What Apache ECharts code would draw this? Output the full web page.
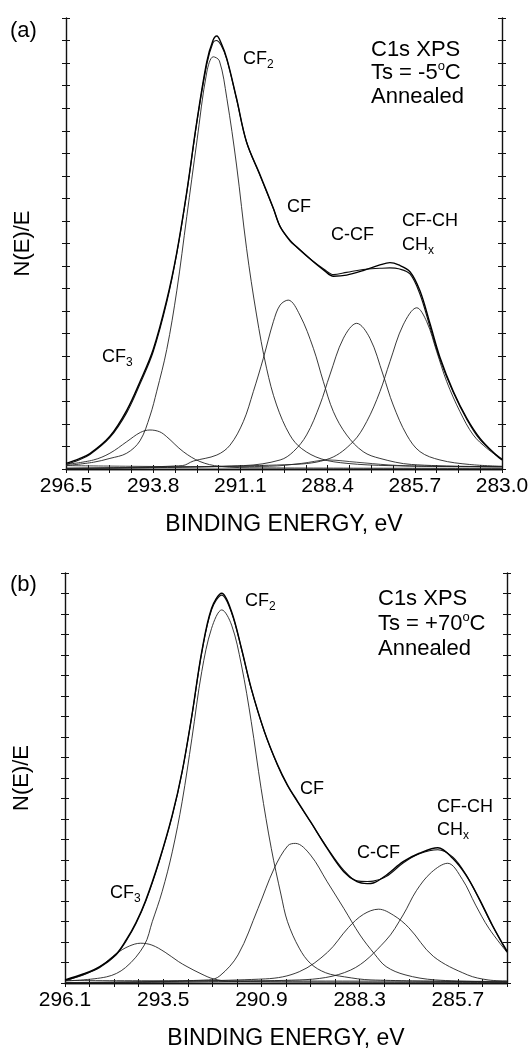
<!DOCTYPE html>
<html><head><meta charset="utf-8">
<script src="https://cdn.jsdelivr.net/npm/echarts/dist/echarts.min.js"></script>
<style>html,body{margin:0;padding:0;background:#fff}#c{width:528px;height:1054px}</style>
</head><body><div id="c"></div>
<script>
// ---------- Panel (a): Ts = -5 C ----------
const A_X_LABELS = [296.5, 293.8, 291.1, 288.4, 285.7, 283.0];
const A_MEAS = [[296.5,0.25],[296.1,0.45],[295.76,0.68],[295.14,1.45],[294.62,2.6],[294.2,3.9],[293.8,5.3],[293.38,7.5],[293.07,9.6],[292.76,12.3],[292.45,15.4],[292.14,18.06],[291.95,19.0],[291.83,19.2],[291.7,18.9],[291.52,18.2],[291.22,16.44],[290.91,14.5],[290.49,13.04],[290.08,11.56],[289.87,10.75],[289.57,10.15],[289.36,9.85],[288.84,9.19],[288.5,8.8],[288.22,8.55],[287.81,8.6],[287.3,8.8],[286.78,9.05],[286.47,9.15],[286.2,9.05],[285.85,8.75],[285.54,7.9],[285.23,6.45],[284.92,4.95],[284.51,3.45],[284.09,2.25],[283.68,1.36],[283.17,0.6],[283.0,0.4]];
const A_FIT = [[296.5,0.2],[296.1,0.4],[295.76,0.64],[295.14,1.4],[294.62,2.5],[294.2,3.8],[293.8,5.2],[293.38,7.4],[293.07,9.55],[292.76,12.25],[292.45,15.35],[292.14,17.95],[291.95,18.9],[291.85,19.0],[291.7,18.8],[291.52,18.15],[291.22,16.4],[290.91,14.5],[290.49,13.0],[290.08,11.55],[289.87,10.75],[289.57,10.12],[289.36,9.85],[288.84,9.2],[288.5,8.85],[288.22,8.62],[287.81,8.72],[287.3,8.85],[286.78,8.9],[286.47,8.92],[286.2,8.88],[285.85,8.65],[285.54,7.75],[285.23,6.3],[284.92,4.85],[284.51,3.4],[284.09,2.2],[283.68,1.3],[283.17,0.62],[283.0,0.45]];
const A_CF3 = [[296.5,0.2],[295.65,0.4],[295.14,0.7],[294.62,1.21],[294.2,1.62],[293.9,1.73],[293.6,1.65],[293.38,1.43],[292.87,0.77],[292.35,0.33],[291.75,0.12],[290.5,0.05],[283.0,0.03]];
const A_CF2 = [[296.5,0.15],[295.65,0.3],[295.14,0.47],[294.62,0.7],[294.21,1.25],[293.9,2.35],[293.69,3.45],[293.38,5.3],[293.07,7.9],[292.76,11.2],[292.45,14.5],[292.14,17.6],[291.94,18.28],[291.75,18.1],[291.52,16.44],[291.22,13.48],[290.91,9.79],[290.6,6.83],[290.29,4.47],[289.98,2.84],[289.57,1.51],[289.2,0.9],[288.6,0.45],[287.8,0.25],[286.5,0.15],[283.0,0.1]];
const A_CF = [[296.5,0.03],[292.9,0.15],[292.56,0.35],[291.83,0.62],[291.42,1.06],[291.01,2.1],[290.7,3.43],[290.39,4.91],[290.08,6.53],[289.87,7.27],[289.62,7.49],[289.26,6.83],[288.84,5.35],[288.53,3.87],[288.22,2.54],[287.81,1.51],[287.3,0.77],[286.78,0.47],[285.8,0.2],[283.0,0.1]];
const A_CCF = [[296.5,0.03],[291.0,0.15],[289.87,0.4],[289.46,0.77],[289.05,1.51],[288.64,2.84],[288.33,4.17],[287.91,5.8],[287.5,6.46],[287.09,5.8],[286.68,4.17],[286.37,2.84],[285.95,1.51],[285.54,0.77],[284.92,0.4],[284.0,0.2],[283.0,0.12]];
const A_CFCH = [[296.5,0.03],[289.5,0.2],[288.33,0.47],[287.61,1.21],[287.19,2.1],[286.78,3.43],[286.47,4.76],[286.06,6.39],[285.64,7.15],[285.33,6.53],[285.02,5.2],[284.71,3.87],[284.3,2.54],[283.89,1.51],[283.47,0.92],[283.0,0.42]];
const A_BG = [[296.5,0.15],[292.0,0.1],[290.2,0.12],[289.2,0.25],[288.4,0.4],[287.5,0.3],[286.5,0.18],[285.5,0.12],[283.0,0.1]];

// ---------- Panel (b): Ts = +70 C ----------
const B_X_LABELS = [296.1, 293.5, 290.9, 288.3, 285.7];
const B_MEAS = [[296.1,0.15],[295.6,0.45],[295.18,0.8],[294.75,1.4],[294.48,2.1],[294.22,2.95],[293.96,4.05],[293.61,5.95],[293.26,8.2],[293.0,10.31],[292.74,13.07],[292.48,16.16],[292.22,18.28],[291.95,19.01],[291.69,18.11],[291.43,16.33],[291.17,14.37],[290.82,12.26],[290.47,10.63],[290.21,9.66],[289.94,8.85],[289.6,7.87],[289.16,6.57],[288.72,5.43],[288.37,4.94],[288.1,4.85],[287.94,4.88],[287.59,5.27],[287.15,5.92],[286.72,6.33],[286.23,6.6],[285.84,6.08],[285.49,5.27],[285.14,4.13],[284.79,2.83],[284.4,1.55]];
const B_FIT = [[296.1,0.12],[295.6,0.42],[295.18,0.76],[294.75,1.36],[294.48,2.05],[294.22,2.9],[293.96,4.0],[293.61,5.9],[293.26,8.15],[293.0,10.28],[292.74,13.05],[292.48,16.1],[292.22,18.2],[291.95,18.92],[291.69,18.05],[291.43,16.3],[291.17,14.35],[290.82,12.25],[290.47,10.6],[290.21,9.62],[289.94,8.82],[289.6,7.85],[289.16,6.6],[288.72,5.5],[288.37,4.98],[288.1,4.95],[287.94,4.97],[287.59,5.2],[287.15,5.85],[286.72,6.3],[286.23,6.5],[285.84,6.15],[285.49,5.3],[285.14,4.1],[284.79,2.8],[284.4,1.5]];
const B_CF3 = [[296.1,0.12],[295.6,0.4],[295.17,0.8],[294.73,1.45],[294.4,1.8],[294.1,1.94],[293.8,1.85],[293.45,1.5],[293.1,1.05],[292.87,0.8],[292.5,0.45],[292.17,0.2],[291.7,0.08],[284.4,0.03]];
const B_CF2 = [[296.1,0.1],[295.0,0.3],[294.5,0.75],[294.0,1.85],[293.79,2.99],[293.53,4.45],[293.26,6.4],[293.0,8.84],[292.74,11.94],[292.48,15.19],[292.22,17.3],[291.95,18.2],[291.69,17.46],[291.43,15.51],[291.17,12.75],[290.91,9.5],[290.64,6.57],[290.38,4.29],[290.21,2.99],[289.9,1.7],[289.6,0.95],[289.2,0.5],[288.7,0.3],[288.0,0.15],[284.4,0.05]];
const B_CF = [[296.1,0.02],[292.3,0.15],[292.0,0.35],[291.52,1.37],[290.99,3.64],[290.56,5.6],[290.2,6.7],[290.0,6.81],[289.6,6.24],[289.16,4.94],[288.72,3.64],[288.29,2.34],[287.9,1.4],[287.6,0.8],[287.1,0.4],[286.3,0.15],[284.4,0.05]];
const B_CCF = [[296.1,0.02],[290.8,0.2],[289.9,0.55],[289.15,1.5],[288.6,2.7],[288.2,3.35],[287.8,3.6],[287.4,3.3],[287.0,2.7],[286.35,1.3],[285.45,0.4],[284.9,0.15],[284.4,0.1]];
const B_CFCH = [[296.1,0.02],[289.9,0.15],[288.54,0.63],[287.62,2.05],[287.15,3.32],[286.8,4.5],[286.4,5.4],[285.97,5.84],[285.58,5.05],[285.23,3.8],[284.88,2.67],[284.4,1.5]];
const B_BG = [[296.1,0.12],[290.0,0.1],[284.4,0.08]];

const Y_MIN = 0, Y_MAX = 20, Y_STEP = 1;

// ---------- rendering ----------
const F = "'Liberation Sans', Arial, Helvetica, sans-serif";
const chart = echarts.init(document.getElementById('c'), null, {renderer: 'canvas'});

function fmt(labels) {
  return v => { const h = labels.find(l => Math.abs(l - v) < 0.01); return h === undefined ? '' : h.toFixed(1); };
}
const AX = {color: '#111', width: 1.4};
const TK = {color: '#111', width: 1};

function xAxes(g, min, max, step, labels) {
  const base = {type: 'value', gridIndex: g, min, max, interval: step, inverse: true, splitLine: {show: false}};
  return [
    Object.assign({}, base, {position: 'bottom', axisLine: {show: true, lineStyle: AX},
      axisTick: {show: true, inside: false, length: 4, lineStyle: TK},
      axisLabel: {show: true, margin: 7, fontSize: 21, fontFamily: F, color: '#000', formatter: fmt(labels)},
      name: 'BINDING ENERGY, eV', nameLocation: 'middle', nameGap: 44,
      nameTextStyle: {fontSize: 23, fontFamily: F, color: '#000'}}),
    Object.assign({}, base, {position: 'bottom', axisLine: {show: false},
      axisTick: {show: true, inside: true, length: 4, lineStyle: TK}, axisLabel: {show: false}}),
    Object.assign({}, base, {position: 'top', axisLine: {show: true, lineStyle: AX},
      axisTick: {show: true, inside: false, length: 4, lineStyle: TK}, axisLabel: {show: false}}),
    Object.assign({}, base, {position: 'top', axisLine: {show: false},
      axisTick: {show: true, inside: true, length: 4, lineStyle: TK}, axisLabel: {show: false}})
  ];
}
function yAxes(g) {
  const base = {type: 'value', gridIndex: g, min: Y_MIN, max: Y_MAX, interval: Y_STEP, splitLine: {show: false}, axisLabel: {show: false}};
  return [
    Object.assign({}, base, {position: 'left', axisLine: {show: true, lineStyle: AX},
      axisTick: {show: true, inside: false, length: 4, lineStyle: TK},
      name: 'N(E)/E', nameLocation: 'middle', nameGap: 32, nameRotate: 90,
      nameTextStyle: {fontSize: 22, fontFamily: F, color: '#000'}}),
    Object.assign({}, base, {position: 'left', axisLine: {show: false},
      axisTick: {show: true, inside: true, length: 4, lineStyle: TK}}),
    Object.assign({}, base, {position: 'right', axisLine: {show: true, lineStyle: AX},
      axisTick: {show: true, inside: false, length: 4, lineStyle: TK}}),
    Object.assign({}, base, {position: 'right', axisLine: {show: false},
      axisTick: {show: true, inside: true, length: 4, lineStyle: TK}})
  ];
}
function line(data, xi, yi, width, color) {
  return {type: 'line', data, xAxisIndex: xi, yAxisIndex: yi, showSymbol: false, symbol: 'none',
    smooth: 0.35, silent: true, animation: false, lineStyle: {color, width}, z: 3};
}
const series = [];
[[A_BG,0.9,'#333'],[A_CF3,0.9,'#222'],[A_CF2,0.9,'#222'],[A_CF,0.9,'#222'],[A_CCF,0.9,'#222'],[A_CFCH,0.9,'#222'],[A_FIT,1.1,'#111'],[A_MEAS,1.4,'#000']]
  .forEach(s => series.push(line(s[0], 0, 0, s[1], s[2])));
[[B_BG,0.9,'#333'],[B_CF3,0.9,'#222'],[B_CF2,0.9,'#222'],[B_CF,0.9,'#222'],[B_CCF,0.9,'#222'],[B_CFCH,0.9,'#222'],[B_FIT,1.1,'#111'],[B_MEAS,1.4,'#000']]
  .forEach(s => series.push(line(s[0], 4, 4, s[1], s[2])));

const RICH = {
  m: {fontSize: 18, fontFamily: F, fill: '#000', lineHeight: 24, verticalAlign: 'middle'},
  s: {fontSize: 12, fontFamily: F, fill: '#000', lineHeight: 24, verticalAlign: 'bottom'},
  b: {fontSize: 22, fontFamily: F, fill: '#000', lineHeight: 26, verticalAlign: 'middle'},
  o: {fontSize: 13, fontFamily: F, fill: '#000', lineHeight: 26, verticalAlign: 'top'}
};
function txt(x, yc, text, big) {
  return {type: 'text', x: x, y: yc, silent: true, z: 10,
    style: {text, rich: RICH, fill: '#000', fontFamily: F, fontSize: big ? 22 : 18, verticalAlign: 'middle', align: 'left'}};
}
const graphics = [
  txt(10, 31, '{b|(a)}', true),
  txt(243, 59, '{m|CF}{s|2}'),
  txt(287, 207, '{m|CF}'),
  txt(331, 235, '{m|C-CF}'),
  txt(402, 221, '{m|CF-CH}'),
  txt(402, 245, '{m|CH}{s|x}'),
  txt(102, 357, '{m|CF}{s|3}'),
  txt(371, 50, '{b|C1s XPS}', true),
  txt(371, 73, '{b|Ts = -5}{o|o}{b|C}', true),
  txt(371, 97, '{b|Annealed}', true),

  txt(10, 585, '{b|(b)}', true),
  txt(245, 601, '{m|CF}{s|2}'),
  txt(300, 789, '{m|CF}'),
  txt(357, 853, '{m|C-CF}'),
  txt(437, 807, '{m|CF-CH}'),
  txt(437, 830, '{m|CH}{s|x}'),
  txt(110, 893, '{m|CF}{s|3}'),
  txt(378, 599, '{b|C1s XPS}', true),
  txt(378, 624, '{b|Ts = +70}{o|o}{b|C}', true),
  txt(378, 649, '{b|Annealed}', true)
];

chart.setOption({
  backgroundColor: '#fff',
  animation: false,
  grid: [
    {left: 66, top: 18, width: 436, height: 451, containLabel: false, outerBoundsMode: 'none'},
    {left: 65, top: 573, width: 442, height: 410, containLabel: false, outerBoundsMode: 'none'}
  ],
  xAxis: xAxes(0, 283.0, 296.5, 0.675, A_X_LABELS).concat(xAxes(1, 284.4, 296.1, 0.65, B_X_LABELS)),
  yAxis: yAxes(0).concat(yAxes(1)),
  series,
  graphic: graphics
});
</script></body></html>
